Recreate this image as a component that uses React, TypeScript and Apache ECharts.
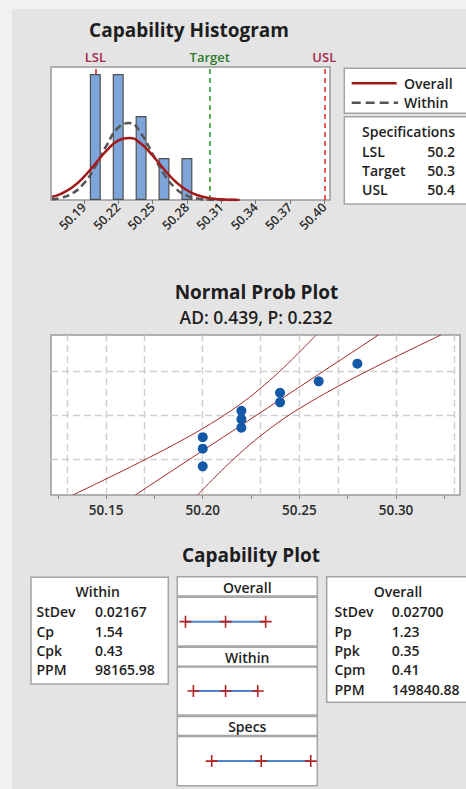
import React, { useEffect, useRef } from "react";
import * as echarts from "echarts";

// ---------- Histogram data ----------
const binCenters = [50.2, 50.22, 50.24, 50.26, 50.28];
const binCounts = [3, 3, 2, 1, 1];
const histTicks = [50.19, 50.22, 50.25, 50.28, 50.31, 50.34, 50.37, 50.4];
const curveX = [50.162, 50.17, 50.18, 50.19, 50.2, 50.21, 50.22, 50.23, 50.24, 50.25, 50.26, 50.27, 50.28, 50.29, 50.3, 50.31, 50.32, 50.326];
const overallCurve = [0.075, 0.147, 0.304, 0.549, 0.863, 1.183, 1.414, 1.474, 1.339, 1.06, 0.732, 0.441, 0.231, 0.106, 0.042, 0.015, 0.005, 0.002];
const withinCurve = [0.018, 0.051, 0.158, 0.395, 0.799, 1.304, 1.72, 1.833, 1.58, 1.1, 0.619, 0.281, 0.103, 0.031, 0.007, 0.001, 0, 0];

const specNames = ["LSL", "Target", "USL"];
const specLimits = [50.2, 50.3, 50.4];

// ---------- Normal probability plot data ----------
const probValues = [50.2, 50.2, 50.2, 50.22, 50.22, 50.22, 50.24, 50.24, 50.26, 50.28];
const probScores = [-1.496, -0.98, -0.645, -0.369, -0.121, 0.121, 0.369, 0.645, 0.98, 1.496];
const bandScores = [-2.33, -2, -1.5, -1, -0.5, 0, 0.5, 1, 1.5, 2, 2.33];
const bandLower = [50.1328, 50.145, 50.1631, 50.1805, 50.1968, 50.2113, 50.2238, 50.2345, 50.2441, 50.253, 50.2587];
const bandUpper = [50.1973, 50.203, 50.2119, 50.2215, 50.2323, 50.2447, 50.2593, 50.2755, 50.2929, 50.311, 50.3232];
const fitValues = [50.1651, 50.2909];
const fitScores = [-2.33, 2.33];
const probTicks = [50.125, 50.15, 50.175, 50.2, 50.225, 50.25, 50.275, 50.3, 50.325];
const probLabels = [50.15, 50.2, 50.25, 50.3];
const probScoreLines = [-1.2816, 0, 1.2816];
const probTitle = "Normal Prob Plot";
const probSubtitle = "AD: 0.439, P: 0.232";

// ---------- Capability plot data ----------
const overallLimits = [50.147, 50.228, 50.309];
const withinLimits = [50.163, 50.228, 50.293];
const withinStatLabels = ["StDev", "Cp", "Cpk", "PPM"];
const withinStatValues = ["0.02167", "1.54", "0.43", "98165.98"];
const overallStatLabels = ["StDev", "Pp", "Ppk", "Cpm", "PPM"];
const overallStatValues = ["0.02700", "1.23", "0.35", "0.41", "149840.88"];

const FONT = '"Open Sans", "Noto Sans", sans-serif';
const TXT = "#1e1e1e";
const BOX = "#a4a4a4";
const RED = "#a31919";
const CROSS = "path://M0,5.2H12V6.8H0Z M5.2,0H6.8V12H5.2Z";
const FS = 14;
const FW = 600;

function txt(text: string, x: number, y: number, size: number, opts: any = {}) {
  return {
    type: "text",
    z: 20,
    style: {
      text,
      x,
      y,
      fill: opts.fill || TXT,
      fontSize: size,
      fontFamily: FONT,
      fontWeight: opts.weight || FW,
      align: opts.align || "left",
      verticalAlign: "middle",
    },
  };
}
function box(x: number, y: number, w: number, h: number) {
  return {
    type: "rect",
    z: 5,
    shape: { x, y, width: w, height: h },
    style: { fill: "#fff", stroke: BOX, lineWidth: 1.5 },
  };
}

export default function App() {
  const ref = useRef<HTMLDivElement>(null);
  useEffect(() => {
    const chart = echarts.init(ref.current!, null, { renderer: "svg" });

    const capGrids = [
      { left: 177.3, top: 597.3, width: 140, height: 48.7 },
      { left: 177.3, top: 667, width: 140, height: 48 },
      { left: 177.3, top: 736.5, width: 140, height: 49.2 },
    ];
    const capSets = [overallLimits, withinLimits, specLimits];

    const graphic: any[] = [
      { type: "rect", z: 1, shape: { x: 0, y: 0, width: 12, height: 789 }, style: { fill: "#f1f1f1" } },
      { type: "rect", z: 1, shape: { x: 0, y: 0, width: 466, height: 9 }, style: { fill: "#f1f1f1" } },
      txt("Capability Histogram", 189, 30, 19, { weight: "bold", align: "center" }),
      txt(probTitle, 256.5, 292, 19, { weight: "bold", align: "center" }),
      txt(probSubtitle, 256, 317, 17.5, { weight: 600, align: "center" }),
      txt("Capability Plot", 251, 555, 19, { weight: "bold", align: "center" }),
      // legend
      box(344.3, 68.3, 125, 45),
      { type: "line", z: 10, shape: { x1: 351.7, y1: 83.3, x2: 396.7, y2: 83.3 }, style: { stroke: RED, lineWidth: 2.5 } },
      { type: "line", z: 10, shape: { x1: 351.7, y1: 102.7, x2: 398, y2: 102.7 }, style: { stroke: "#555", lineWidth: 2.5, lineDash: [9, 5] } },
      txt("Overall", 404, 83.3, FS),
      txt("Within", 404, 102.7, FS),
      // specifications
      box(344.3, 116.7, 125, 87.3),
      txt("Specifications", 362, 131.7, FS),
      ...specNames.flatMap((n, i) => [
        txt(n, 362, 151.7 + i * 18.8, FS),
        txt(specLimits[i].toFixed(1), 455, 151.7 + i * 18.8, FS, { align: "right" }),
      ]),
      // within stats
      box(31, 577.3, 137.3, 106.7),
      txt("Within", 97.7, 591.7, FS, { align: "center" }),
      ...withinStatLabels.flatMap((n, i) => [
        txt(n, 36.5, 611.7 + i * 19.4, FS),
        txt(withinStatValues[i], 95, 611.7 + i * 19.4, FS),
      ]),
      // overall stats
      box(326.7, 576.7, 150, 125.6),
      txt("Overall", 398, 591.7, FS, { align: "center" }),
      ...overallStatLabels.flatMap((n, i) => [
        txt(n, 334.5, 611.7 + i * 19.4, FS),
        txt(overallStatValues[i], 391.7, 611.7 + i * 19.4, FS),
      ]),
      // capability headers
      box(177.3, 576.7, 140, 19.3),
      txt("Overall", 247.3, 587, FS, { align: "center" }),
      box(177.3, 647.3, 140, 19),
      txt("Within", 247.3, 657, FS, { align: "center" }),
      box(177.3, 716.5, 140, 19),
      txt("Specs", 247.3, 726.5, FS, { align: "center" }),
    ];

    const option: any = {
      animation: false,
      backgroundColor: "#e4e4e4",
      textStyle: { fontFamily: FONT },
      graphic: { elements: graphic },
      grid: [
        { left: 51, top: 67, width: 279, height: 133, show: true, backgroundColor: "#fff", borderColor: "#999", borderWidth: 1.5 },
        { left: 51, top: 335, width: 409, height: 160, show: true, backgroundColor: "#fff", borderColor: "#999", borderWidth: 1.5 },
        ...capGrids.map((g) => ({ ...g, show: true, backgroundColor: "#fff", borderColor: BOX, borderWidth: 1.5 })),
      ],
      xAxis: [
        {
          gridIndex: 0, type: "value", min: 50.1613, max: 50.405,
          axisLine: { show: false, onZero: false },
          axisTick: { customValues: histTicks, length: 4, lineStyle: { color: "#777" } },
          axisLabel: { customValues: histTicks, rotate: 45, fontSize: 12.5, fontWeight: 600, color: "#2a2a2a", margin: 5, formatter: (v: number) => v.toFixed(2) },
          splitLine: { show: false },
        },
        {
          gridIndex: 1, type: "value", min: 50.1215, max: 50.3331,
          axisLine: { show: false, onZero: false },
          axisTick: { customValues: probTicks, length: 4, lineStyle: { color: "#888" } },
          axisLabel: { customValues: probLabels, fontSize: 13.5, fontWeight: 600, color: "#2a2a2a", margin: 8, formatter: (v: number) => v.toFixed(2) },
          splitLine: { show: false },
        },
        ...capGrids.map((_, i) => ({ gridIndex: 2 + i, type: "value", min: 50.1305, max: 50.4133, show: false })),
      ],
      yAxis: [
        { gridIndex: 0, type: "value", min: 0, max: 3.167, show: false },
        { gridIndex: 1, type: "value", min: -2.33, max: 2.33, show: false },
        ...capGrids.map((_, i) => ({ gridIndex: 2 + i, type: "value", min: 0, max: 1, show: false })),
      ],
      series: [
        {
          type: "bar", xAxisIndex: 0, yAxisIndex: 0, barWidth: 11, z: 2,
          data: binCenters.map((c, i) => [c, binCounts[i]]),
          itemStyle: { color: "#7ea5da", borderColor: "#4f4f4f", borderWidth: 1.2 },
          markLine: {
            z: 1, silent: true, symbol: "none",
            data: specLimits.map((v, i) => ({
              xAxis: v, name: specNames[i],
              lineStyle: { color: i === 1 ? "#1c9a1c" : "#e0282a", type: [5, 4], width: 1.5 },
              label: { show: true, position: "end", formatter: specNames[i], color: i === 1 ? "#2c7a2c" : "#a52a4a", fontSize: 13, fontWeight: 600, distance: 4 },
            })),
          },
        },
        {
          type: "line", xAxisIndex: 0, yAxisIndex: 0, smooth: true, symbol: "none", z: 3,
          data: curveX.map((x, i) => [x, withinCurve[i]]),
          lineStyle: { color: "#555", width: 2.5, type: [7, 4] },
        },
        {
          type: "line", xAxisIndex: 0, yAxisIndex: 0, smooth: true, symbol: "none", z: 4,
          data: curveX.map((x, i) => [x, overallCurve[i]]),
          lineStyle: { color: RED, width: 2.5 },
        },
        {
          type: "line", xAxisIndex: 1, yAxisIndex: 1, data: [], z: 1,
          markLine: {
            z: 1, silent: true, symbol: "none", label: { show: false },
            lineStyle: { color: "#cfcfcf", type: [7, 4], width: 1.4 },
            data: [
              ...probTicks.map((v) => ({ xAxis: v })),
              ...probScoreLines.map((v) => ({ yAxis: v })),
            ],
          },
        },
        ...[bandLower, bandUpper].map((band) => ({
          type: "line", xAxisIndex: 1, yAxisIndex: 1, smooth: 0.3, symbol: "none", z: 3,
          data: band.map((x, i) => [x, bandScores[i]]),
          lineStyle: { color: "#a52a2a", width: 1 },
        })),
        {
          type: "line", xAxisIndex: 1, yAxisIndex: 1, symbol: "none", z: 3,
          data: fitValues.map((x, i) => [x, fitScores[i]]),
          lineStyle: { color: "#a52a2a", width: 1 },
        },
        {
          type: "scatter", xAxisIndex: 1, yAxisIndex: 1, symbolSize: 10, z: 5,
          data: probValues.map((x, i) => [x, probScores[i]]),
          itemStyle: { color: "#1459a8", opacity: 1 },
        },
        ...capSets.flatMap((set, i) => [
          {
            type: "line", xAxisIndex: 2 + i, yAxisIndex: 2 + i, symbol: "none", z: 3,
            data: [[set[0], 0.5], [set[2], 0.5]],
            lineStyle: { color: "#4a87cc", width: 2 },
          },
          {
            type: "scatter", xAxisIndex: 2 + i, yAxisIndex: 2 + i, symbol: CROSS, symbolSize: 12, z: 4,
            data: set.map((v) => [v, 0.5]),
            itemStyle: { color: "#b52222", opacity: 1 },
          },
        ]),
      ],
    };
    chart.setOption(option);
    return () => chart.dispose();
  }, []);
  return <div ref={ref} style={{ position: "fixed", left: 0, top: 0, width: 466, height: 789 }} />;
}
